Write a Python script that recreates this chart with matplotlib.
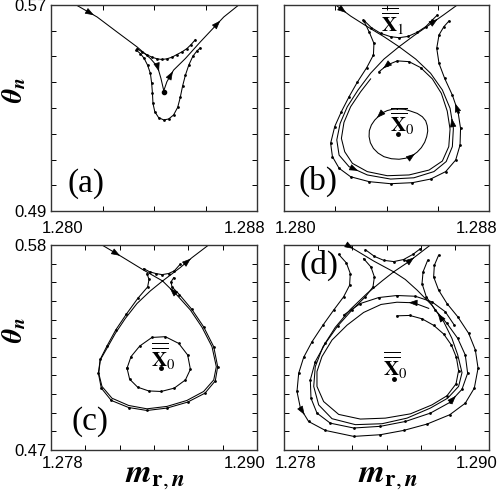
import matplotlib
matplotlib.use('Agg')
import matplotlib.pyplot as plt
import numpy as np

plt.rcParams['mathtext.fontset'] = 'stix'
plt.rcParams['font.family'] = 'Liberation Sans'

# ---------------- panel (a) ----------------
a_stable_x = [1.28098, 1.28179, 1.28256, 1.28334, 1.28386, 1.28414, 1.28427, 1.28438]
a_stable_y = [0.5700, 0.56535, 0.55955, 0.55374, 0.54923, 0.54600, 0.54148, 0.53671]
a_unstable_x = [1.28438, 1.28450, 1.28476, 1.28522, 1.28580, 1.28671, 1.28729]
a_unstable_y = [0.53671, 0.54019, 0.54471, 0.54923, 0.55568, 0.56535, 0.5700]
a_upper_x = [1.28334, 1.28353, 1.28373, 1.28392, 1.28412, 1.28431, 1.28450, 1.28470, 1.28489, 1.28509, 1.28528, 1.28544, 1.28561]
a_upper_y = [0.55310, 0.55181, 0.55065, 0.54974, 0.54910, 0.54884, 0.54910, 0.54974, 0.55077, 0.55181, 0.55310, 0.55465, 0.55658]
a_lower_x = [1.28331, 1.28347, 1.28362, 1.28375, 1.28386, 1.28391, 1.28394, 1.28396, 1.28403, 1.28418, 1.28438,
             1.28457, 1.28476, 1.28492, 1.28502, 1.28511, 1.28522, 1.28535, 1.28551, 1.28567, 1.28580]
a_lower_y = [0.55245, 0.55116, 0.54923, 0.54665, 0.54342, 0.53955, 0.53568, 0.53181, 0.52858, 0.52626, 0.52536,
             0.52574, 0.52729, 0.53026, 0.53413, 0.53852, 0.54277, 0.54665, 0.55013, 0.55219, 0.55336]
a_fix = (1.28438, 0.53632)

# ---------------- panel (b) ----------------
b_ul_x = [1.28202, 1.28260, 1.28325, 1.28390, 1.28449]
b_ul_y = [0.5700, 0.5657, 0.5616, 0.5577, 0.5538]
b_ur_x = [1.28449, 1.28507, 1.28566, 1.28622, 1.28676]
b_ur_y = [0.5538, 0.5581, 0.5622, 0.5661, 0.5700]
b_loop_x = [1.28449, 1.28390, 1.28338, 1.28289, 1.28247, 1.28219, 1.28206, 1.28215, 1.28254, 1.28325, 1.28416,
            1.28507, 1.28585, 1.28633, 1.28657, 1.28661, 1.28648, 1.28618, 1.28572, 1.28514, 1.28449]
b_loop_y = [0.5538, 0.5490, 0.5435, 0.5370, 0.5305, 0.5240, 0.5176, 0.5117, 0.5072, 0.5040, 0.5024,
            0.5029, 0.5053, 0.5092, 0.5150, 0.5221, 0.5299, 0.5370, 0.5435, 0.5490, 0.5538]
b_inner_x = [1.28371, 1.28403, 1.28442, 1.28488, 1.28533, 1.28579, 1.28614, 1.28637, 1.28648, 1.28643, 1.28618,
             1.28566, 1.28488, 1.28403, 1.28325, 1.28267, 1.28237, 1.28224, 1.28234, 1.28260, 1.28299, 1.28338]
b_inner_y = [0.5441, 0.5467, 0.5483, 0.5480, 0.5457, 0.5413, 0.5357, 0.5288, 0.5218, 0.5150, 0.5094,
             0.5059, 0.5040, 0.5037, 0.5053, 0.5085, 0.5130, 0.5182, 0.5244, 0.5305, 0.5363, 0.5413]
b_outer_x = [1.28312, 1.28333, 1.28351, 1.28349, 1.28323, 1.28286, 1.28254, 1.28224, 1.28198, 1.28182, 1.28189,
             1.28215, 1.28260, 1.28332, 1.28416, 1.28501, 1.28572, 1.28631, 1.28670, 1.28687, 1.28689, 1.28679,
             1.28657, 1.28627, 1.28605, 1.28596, 1.28605, 1.28624, 1.28644]
b_outer_y = [0.5638, 0.5594, 0.5551, 0.5506, 0.5457, 0.5400, 0.5344, 0.5286, 0.5228, 0.5163, 0.5111,
             0.5066, 0.5033, 0.5014, 0.5006, 0.5010, 0.5024, 0.5053, 0.5098, 0.5156, 0.5221, 0.5286,
             0.5350, 0.5415, 0.5473, 0.5532, 0.5584, 0.5616, 0.5638]
b_u_x = [1.28310, 1.28341, 1.28377, 1.28416, 1.28449, 1.28484, 1.28520, 1.28553, 1.28579, 1.28598]
b_u_y = [0.5642, 0.5612, 0.5590, 0.5577, 0.5573, 0.5578, 0.5594, 0.5616, 0.5642, 0.5661]
b_ell_x = [1.28442, 1.28471, 1.28494, 1.28520, 1.28540, 1.28553, 1.28559, 1.28561, 1.28557, 1.28549, 1.28536,
           1.28520, 1.28501, 1.28475, 1.28449, 1.28419, 1.28390, 1.28367, 1.28349, 1.28337, 1.28332, 1.28333,
           1.28341, 1.28354, 1.28371, 1.28386, 1.28403, 1.28423, 1.28442]
b_ell_y = [0.5296, 0.5295, 0.5288, 0.5279, 0.5266, 0.5250, 0.5231, 0.5211, 0.5189, 0.5167, 0.5146,
           0.5129, 0.5115, 0.5105, 0.5101, 0.5103, 0.5111, 0.5125, 0.5143, 0.5165, 0.5189, 0.5212,
           0.5234, 0.5253, 0.5270, 0.5282, 0.5290, 0.5295, 0.5296]
b_fix0 = (1.28445, 0.5198)

# ---------------- panel (c) ----------------
c_ul_x = [1.28097, 1.28214, 1.28340, 1.28450]
c_ul_y = [0.5800, 0.5736, 0.5665, 0.5607]
c_ur_x = [1.28450, 1.28553, 1.28621, 1.28718]
c_ur_y = [0.5607, 0.5679, 0.5732, 0.5800]
c_loop_x = [1.28450, 1.28379, 1.28301, 1.28233, 1.28175, 1.28126, 1.28087, 1.28078, 1.28097, 1.28155, 1.28252,
            1.28359, 1.28476, 1.28592, 1.28689, 1.28748, 1.28763, 1.28738, 1.28680, 1.28612, 1.28534, 1.28450]
c_loop_y = [0.5607, 0.5554, 0.5486, 0.5406, 0.5326, 0.5246, 0.5183, 0.5112, 0.5041, 0.4978, 0.4939,
            0.4921, 0.4934, 0.4966, 0.5014, 0.5076, 0.5147, 0.5254, 0.5358, 0.5451, 0.5531, 0.5607]
c_outer_x = [1.28359, 1.28371, 1.28363, 1.28305, 1.28239, 1.28177, 1.28126, 1.28087, 1.28076, 1.28093, 1.28151,
             1.28252, 1.28359, 1.28476, 1.28596, 1.28697, 1.28757, 1.28771, 1.28748, 1.28689, 1.28621, 1.28548,
             1.28505, 1.28499, 1.28515]
c_outer_y = [0.5647, 0.5615, 0.5575, 0.5513, 0.5429, 0.5344, 0.5258, 0.5187, 0.5112, 0.5032, 0.4966,
             0.4928, 0.4912, 0.4925, 0.4957, 0.5005, 0.5071, 0.5147, 0.5254, 0.5361, 0.5454, 0.5534,
             0.5575, 0.5602, 0.5625]
c_u_x = [1.28340, 1.28375, 1.28410, 1.28447, 1.28485, 1.28518, 1.28553]
c_u_y = [0.5673, 0.5656, 0.5647, 0.5641, 0.5647, 0.5661, 0.5697]
c_ell_x = [1.28243, 1.28258, 1.28305, 1.28369, 1.28441, 1.28518, 1.28583, 1.28612, 1.28596, 1.28544, 1.28466,
           1.28388, 1.28317, 1.28266, 1.28243]
c_ell_y = [0.5139, 0.5080, 0.5037, 0.5017, 0.5014, 0.5032, 0.5076, 0.5133, 0.5210, 0.5272, 0.5308,
           0.5304, 0.5258, 0.5201, 0.5139]
c_fix0 = (1.28443, 0.5142)

# ---------------- panel (d) ----------------
d_ul_x = [1.28169, 1.28231, 1.28325, 1.28442]
d_ul_y = [0.5800, 0.5766, 0.5714, 0.5656]
d_ur_x = [1.28442, 1.28520, 1.28579, 1.28657]
d_ur_y = [0.5656, 0.5704, 0.5745, 0.5800]
d_u_x = [1.28276, 1.28329, 1.28383, 1.28442, 1.28500, 1.28555, 1.28598]
d_u_y = [0.5775, 0.5739, 0.5718, 0.5711, 0.5722, 0.5750, 0.5780]
d1_x = [1.28120, 1.28165, 1.28188, 1.28184, 1.28149, 1.28091, 1.28028, 1.27964, 1.27915, 1.27886, 1.27876,
        1.27896, 1.27944, 1.28042, 1.28208, 1.28364, 1.28500, 1.28637, 1.28770, 1.28861, 1.28914, 1.28936,
        1.28920, 1.28881, 1.28817, 1.28754, 1.28705, 1.28676, 1.28680, 1.28705]
d1_y = [0.5750, 0.5704, 0.5647, 0.5584, 0.5522, 0.5451, 0.5370, 0.5281, 0.5197, 0.5112, 0.5014,
        0.4925, 0.4853, 0.4805, 0.4773, 0.4782, 0.4805, 0.4839, 0.4889, 0.4951, 0.5032, 0.5139,
        0.5237, 0.5326, 0.5415, 0.5486, 0.5558, 0.5629, 0.5691, 0.5745]
d2_x = [1.28266, 1.28309, 1.28329, 1.28321, 1.28276, 1.28198, 1.28114, 1.28042, 1.27983, 1.27954, 1.27958,
        1.27993, 1.28071, 1.28208, 1.28364, 1.28510, 1.28657, 1.28770, 1.28842, 1.28875, 1.28861, 1.28817,
        1.28754, 1.28686, 1.28633, 1.28608, 1.28614, 1.28641]
d2_y = [0.5727, 0.5682, 0.5629, 0.5575, 0.5522, 0.5451, 0.5365, 0.5272, 0.5174, 0.5076, 0.4978,
        0.4898, 0.4844, 0.4818, 0.4827, 0.4853, 0.4898, 0.4955, 0.5026, 0.5112, 0.5210, 0.5299,
        0.5379, 0.5451, 0.5522, 0.5593, 0.5656, 0.5718]
d3_x = [1.28442, 1.28374, 1.28286, 1.28188, 1.28100, 1.28028, 1.27983, 1.27974, 1.28003, 1.28081, 1.28218,
        1.28374, 1.28520, 1.28657, 1.28758, 1.28822, 1.28842, 1.28817, 1.28783, 1.28735, 1.28666, 1.28579,
        1.28510, 1.28442]
d3_y = [0.5656, 0.5607, 0.5540, 0.5454, 0.5358, 0.5254, 0.5147, 0.5041, 0.4942, 0.4868, 0.4836,
        0.4841, 0.4871, 0.4925, 0.4978, 0.5041, 0.5115, 0.5210, 0.5299, 0.5388, 0.5477, 0.5558,
        0.5615, 0.5656]
d4_x = [1.28461, 1.28536, 1.28608, 1.28676, 1.28735, 1.28780, 1.28809, 1.28822, 1.28807, 1.28754, 1.28666,
        1.28540, 1.28393, 1.28247, 1.28120, 1.28032, 1.27993, 1.27993, 1.28022, 1.28081, 1.28169, 1.28266,
        1.28368, 1.28461, 1.28559, 1.28647]
d4_y = [0.5420, 0.5422, 0.5404, 0.5369, 0.5322, 0.5263, 0.5197, 0.5126, 0.5055, 0.4991, 0.4942,
        0.4894, 0.4871, 0.4866, 0.4891, 0.4960, 0.5041, 0.5121, 0.5201, 0.5290, 0.5370, 0.5438,
        0.5481, 0.5493, 0.5490, 0.5460]
d5_x = [1.28149, 1.28247, 1.28354, 1.28461, 1.28569, 1.28666, 1.28744, 1.28797]
d5_y = [0.5424, 0.5486, 0.5518, 0.5529, 0.5525, 0.5495, 0.5442, 0.5370]
d_fix0 = (1.28446, 0.5080)

# ---------------- axes settings ----------------
ab_xlim = (1.280, 1.288)
ab_ylim = (0.49, 0.57)
ab_xticks = [1.280, 1.282, 1.284, 1.286, 1.288]
ab_yticks = [0.49, 0.50, 0.51, 0.52, 0.53, 0.54, 0.55, 0.56, 0.57]
cd_xlim = (1.278, 1.290)
cd_ylim = (0.47, 0.58)
cd_xticks = [1.278, 1.280, 1.282, 1.284, 1.286, 1.288, 1.290]
cd_yticks = [0.47, 0.48, 0.49, 0.50, 0.51, 0.52, 0.53, 0.54, 0.55, 0.56, 0.57, 0.58]

W, H = 498, 492
fig = plt.figure(figsize=(W / 100, H / 100), dpi=100)
axA = fig.add_axes([51 / W, 1 - 211 / H, 206 / W, 206 / H])
axB = fig.add_axes([284 / W, 1 - 211 / H, 205 / W, 206 / H])
axC = fig.add_axes([51 / W, 1 - 450 / H, 206 / W, 205 / H])
axD = fig.add_axes([284 / W, 1 - 450 / H, 205 / W, 205 / H])

LW = 0.75
MS = 2.0
TICKFS = 12


def curve(ax, xs, ys, dots=False, lw=LW):
    if dots:
        ax.plot(xs, ys, '-', color='k', lw=lw, marker='o', ms=MS, mfc='k', mec='k', mew=0)
    else:
        ax.plot(xs, ys, '-', color='k', lw=lw)


def arrow(ax, xs, ys, i, t=0.5, rev=False):
    x0, y0, x1, y1 = xs[i], ys[i], xs[i + 1], ys[i + 1]
    if rev:
        x0, y0, x1, y1 = x1, y1, x0, y0
    xh = x0 + t * (x1 - x0)
    yh = y0 + t * (y1 - y0)
    xt = x0 + (t - 0.08) * (x1 - x0)
    yt = y0 + (t - 0.08) * (y1 - y0)
    ax.annotate('', xy=(xh, yh), xytext=(xt, yt),
                arrowprops=dict(arrowstyle='-|>,head_length=0.9,head_width=0.33', color='k', lw=0.5,
                                shrinkA=0, shrinkB=0, mutation_scale=6))


def setup(ax, xlim, ylim, xticks, yticks, ylabels, xlabels, xlab_dy):
    ax.set_xlim(*xlim)
    ax.set_ylim(*ylim)
    ax.set_xticks(xticks)
    ax.set_xticklabels([])
    ax.set_yticks(yticks)
    if ylabels:
        labs = [''] * len(yticks)
        labs[0] = '%.2f' % yticks[0]
        labs[-1] = '%.2f' % yticks[-1]
        ax.set_yticklabels(labs, fontsize=TICKFS)
    else:
        ax.set_yticklabels([])
    ax.tick_params(direction='in', top=True, right=True, length=3.5, width=0.7, pad=3.0)
    for s in ax.spines.values():
        s.set_linewidth(1.0)
        s.set_color('#333333')
    if xlabels:
        ax.annotate('%.3f' % xticks[0], xy=(0, 0), xycoords='axes fraction',
                    xytext=(12 * 0.72, -xlab_dy * 0.72), textcoords='offset points',
                    ha='center', va='top', fontsize=TICKFS)
        ax.annotate('%.3f' % xticks[-1], xy=(1, 0), xycoords='axes fraction',
                    xytext=(-12 * 0.72, -xlab_dy * 0.72), textcoords='offset points',
                    ha='center', va='top', fontsize=TICKFS)


setup(axA, ab_xlim, ab_ylim, ab_xticks, ab_yticks, True, True, 10)
setup(axB, ab_xlim, ab_ylim, ab_xticks, ab_yticks, False, True, 10)
setup(axC, cd_xlim, cd_ylim, cd_xticks, cd_yticks, True, True, 6)
setup(axD, cd_xlim, cd_ylim, cd_xticks, cd_yticks, False, True, 6)

XBAR0 = r'$\overline{\overline{\mathbf{X}}}_{0}$'
XBAR1 = r'$\overline{\overline{\mathbf{X}}}_{1}$'
PFONT = dict(family='Liberation Serif', fontsize=24)

# ---- (a)
curve(axA, a_stable_x, a_stable_y)
curve(axA, a_unstable_x, a_unstable_y)
curve(axA, a_upper_x, a_upper_y, dots=True)
curve(axA, a_lower_x, a_lower_y, dots=True)
axA.plot(*a_fix, 'o', color='k', ms=3)
arrow(axA, a_stable_x, a_stable_y, 0, 0.85)
arrow(axA, a_stable_x, a_stable_y, 5, 0.4)
arrow(axA, a_unstable_x, a_unstable_y, 1, 0.9)
arrow(axA, a_unstable_x, a_unstable_y, 4, 0.85)
axA.text(1.28137, 0.5008, '(a)', ha='center', va='center', **PFONT)

# ---- (b)
curve(axB, b_ul_x, b_ul_y)
curve(axB, b_ur_x, b_ur_y)
curve(axB, b_loop_x, b_loop_y)
curve(axB, b_inner_x, b_inner_y)
axB.plot(b_inner_x[:5], b_inner_y[:5], 'o', color='k', ms=MS, mew=0)
curve(axB, b_outer_x, b_outer_y, dots=True)
curve(axB, b_u_x, b_u_y, dots=True)
curve(axB, b_ell_x, b_ell_y)
axB.plot(*b_fix0, 'o', color='k', ms=2.5)
arrow(axB, b_ul_x, b_ul_y, 0, 0.7)
arrow(axB, b_ur_x, b_ur_y, 2, 0.6)
arrow(axB, b_loop_x, b_loop_y, 15, 0.5)
arrow(axB, b_loop_x, b_loop_y, 8, 0.5)
arrow(axB, b_outer_x, b_outer_y, 21, 0.5)
arrow(axB, b_inner_x, b_inner_y, 0, 0.5, rev=True)
arrow(axB, b_ell_x, b_ell_y, 23, 0.5, rev=True)
arrow(axB, b_ell_x, b_ell_y, 11, 0.5, rev=True)
axB.text(1.28423, 0.5635, XBAR1, ha='center', va='center', fontsize=15)
axB.text(1.28462, 0.5247, XBAR0, ha='center', va='center', fontsize=15)
axB.text(1.28134, 0.5014, '(b)', ha='center', va='center', **PFONT)

# ---- (c)
curve(axC, c_ul_x, c_ul_y)
curve(axC, c_ur_x, c_ur_y)
curve(axC, c_loop_x, c_loop_y)
curve(axC, c_outer_x, c_outer_y, dots=True)
curve(axC, c_u_x, c_u_y, dots=True)
curve(axC, c_ell_x, c_ell_y, dots=True)
axC.plot(*c_fix0, 'o', color='k', ms=2.5)
arrow(axC, c_ul_x, c_ul_y, 0, 0.9)
arrow(axC, c_ur_x, c_ur_y, 1, 0.9)
arrow(axC, c_loop_x, c_loop_y, 20, 0.5)
axC.text(1.28456, 0.5201, XBAR0, ha='center', va='center', fontsize=15)
axC.text(1.28029, 0.4853, '(c)', ha='center', va='center', **PFONT)

# ---- (d)
curve(axD, d_ul_x, d_ul_y)
curve(axD, d_ur_x, d_ur_y)
curve(axD, d_u_x, d_u_y, dots=True)
curve(axD, d1_x, d1_y, dots=True)
curve(axD, d2_x, d2_y, dots=True)
curve(axD, d3_x, d3_y)
curve(axD, d4_x, d4_y)
axD.plot(d4_x[:10], d4_y[:10], 'o', color='k', ms=MS, mew=0)
curve(axD, d5_x, d5_y, dots=True)
axD.plot(*d_fix0, 'o', color='k', ms=2.5)
arrow(axD, d_ul_x, d_ul_y, 0, 0.6)
arrow(axD, d_ur_x, d_ur_y, 1, 0.7)
arrow(axD, d4_x, d4_y, 23, 0.3, rev=True)
arrow(axD, d3_x, d3_y, 19, 0.5)
arrow(axD, d2_x, d2_y, 17, 0.5)
arrow(axD, d1_x, d1_y, 11, 0.5)
axD.text(1.28452, 0.5156, XBAR0, ha='center', va='center', fontsize=15)
axD.text(1.28003, 0.5691, '(d)', ha='center', va='center', **PFONT)

# axis labels
fig.text(15 / W, 1 - 90 / H, r'$\mathbfit{\theta}_{\mathbfit{n}}$', rotation=90, ha='center', va='center', fontsize=20)
fig.text(15 / W, 1 - 330 / H, r'$\mathbfit{\theta}_{\mathbfit{n}}$', rotation=90, ha='center', va='center', fontsize=20)
fig.text(155 / W, 1 - 476 / H, r'$\mathbfit{m}_{\mathbf{r},\mathbfit{n}}$', ha='center', va='center', fontsize=24)
fig.text(388 / W, 1 - 476 / H, r'$\mathbfit{m}_{\mathbf{r},\mathbfit{n}}$', ha='center', va='center', fontsize=24)

fig.savefig('out.png', dpi=100)
